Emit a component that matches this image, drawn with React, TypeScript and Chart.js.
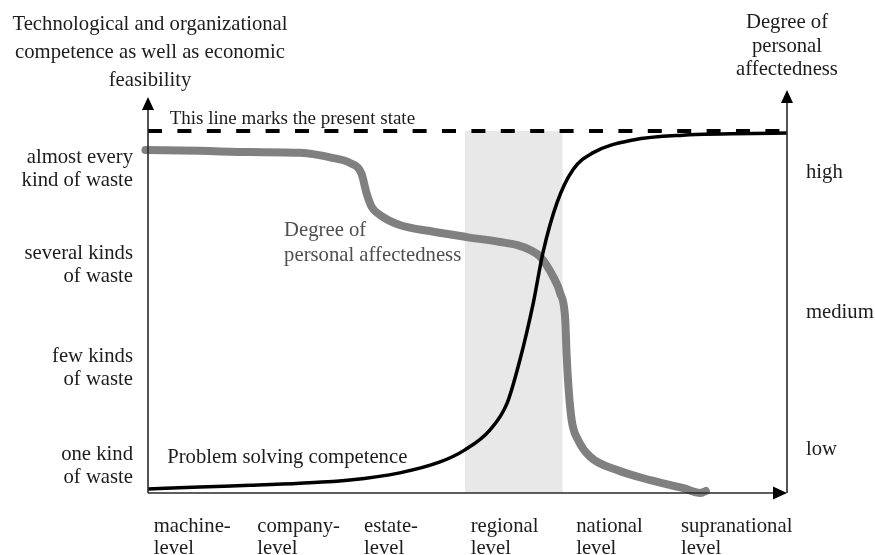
import React, { useEffect, useRef } from "react";
import { Chart, registerables } from "chart.js";

Chart.register(...registerables);

// ---------- data (chart units: x = 0..100 along the level axis, y = 0..100 up the axes) ----------
const levelLabels = [
  ["machine-", "level"],
  ["company-", "level"],
  ["estate-", "level"],
  ["regional", "level"],
  ["national", "level"],
  ["supranational", "level"],
];
const levelPositions = [0.9, 17.1, 33.8, 50.5, 67.0, 83.4];

const wasteLabels = [
  ["almost every", "kind of waste"],
  ["several kinds", "of waste"],
  ["few kinds", "of waste"],
  ["one kind", "of waste"],
];
const wastePositions = [80.5, 56.6, 30.9, 6.6];

const affectLabels = ["high", "medium", "low"];
const affectPositions = [79.4, 44.7, 10.7];

// Problem solving competence (black S-curve)
const competenceX = [0, 8.1, 16.0, 23.8, 31.6, 39.4, 45.7, 49.6, 53.5, 56.2, 58.2, 60.3, 61.8, 64.0, 66.5, 69.6, 75.9, 83.7, 100];
const competenceY = [1.0, 1.5, 1.9, 2.4, 3.2, 5.0, 7.7, 10.7, 15.6, 22.3, 33.0, 47.2, 59.6, 72.0, 80.2, 84.4, 87.6, 88.8, 89.3];

// Degree of personal affectedness (thick grey curve)
const affectednessX = [-0.4, 8.1, 16.0, 23.8, 29.0, 31.6, 33.4, 34.2, 35.0, 36.3, 39.4, 44.1, 49.9, 55.1, 57.8, 59.8, 61.4, 63.4, 64.5, 65.3, 65.5, 65.8, 66.3, 67.3, 69.2, 73.4, 78.6, 83.8, 86.4, 87.3];
const affectednessY = [85.1, 84.9, 84.6, 84.4, 83.1, 81.9, 79.3, 74.4, 71.0, 69.0, 66.5, 65.0, 63.5, 62.3, 61.5, 60.3, 58.6, 53.7, 49.6, 42.9, 34.7, 26.4, 18.1, 13.2, 9.0, 5.7, 3.2, 1.2, 0, 0.5];

// Present state (dashed line)
const presentStateX = [0, 100];
const presentStateY = [89.8, 89.8];

// Regional band (light grey area)
const regionalBandX = [49.6, 64.9];
const regionalBandY = [89.8, 89.8];

const FONT = '"Liberation Serif", "Times New Roman", serif';
const TEXT = "#1c1c1c";
const SIZE = 20.7;

const toPoints = (xs: number[], ys: number[]) => xs.map((x, i) => ({ x, y: ys[i] }));

const overlayPlugin = {
  id: "overlay",
  afterDatasetsDraw(chart: any) {
    const { ctx, chartArea: a, scales } = chart;
    const sx = scales.x;
    const sy = scales.y;
    ctx.save();

    // axes
    ctx.strokeStyle = "#2a2a2a";
    ctx.fillStyle = "#000";
    ctx.lineWidth = 1.6;
    const leftTip = a.top + 7;
    const rightTip = a.top;
    ctx.beginPath();
    ctx.moveTo(a.left, a.bottom);
    ctx.lineTo(a.left, leftTip + 8);
    ctx.moveTo(a.right, a.bottom);
    ctx.lineTo(a.right, rightTip + 8);
    ctx.moveTo(a.left, a.bottom);
    ctx.lineTo(a.right - 8, a.bottom);
    ctx.stroke();
    const tri = (p: number[][]) => {
      ctx.beginPath();
      ctx.moveTo(p[0][0], p[0][1]);
      ctx.lineTo(p[1][0], p[1][1]);
      ctx.lineTo(p[2][0], p[2][1]);
      ctx.closePath();
      ctx.fill();
    };
    tri([[a.left, leftTip], [a.left - 6, leftTip + 13], [a.left + 6, leftTip + 13]]);
    tri([[a.right, rightTip], [a.right - 6, rightTip + 13], [a.right + 6, rightTip + 13]]);
    tri([[a.right, a.bottom], [a.right - 14, a.bottom - 6.5], [a.right - 14, a.bottom + 6.5]]);

    // titles
    ctx.font = `${SIZE}px ${FONT}`;
    ctx.fillStyle = TEXT;
    ctx.textBaseline = "alphabetic";
    ctx.textAlign = "center";
    const leftTitle = ["Technological and organizational", "competence as well as economic", "feasibility"];
    leftTitle.forEach((t, i) => ctx.fillText(t, a.left + 2, 30 + i * 28));
    const rightTitle = ["Degree of", "personal", "affectedness"];
    rightTitle.forEach((t, i) => ctx.fillText(t, a.right, 28 + i * 23.5));

    // in-plot labels (anchored in chart units)
    ctx.textAlign = "left";
    ctx.font = `19px ${FONT}`;
    ctx.fillText("This line marks the present state", sx.getPixelForValue(3.4), sy.getPixelForValue(91.6));
    ctx.font = `${SIZE}px ${FONT}`;
    ctx.fillText("Problem solving competence", sx.getPixelForValue(3.0), sy.getPixelForValue(7.4));
    ctx.fillStyle = "#4f4f4f";
    ctx.fillText("Degree of", sx.getPixelForValue(21.3), sy.getPixelForValue(63.8));
    ctx.fillText("personal affectedness", sx.getPixelForValue(21.3), sy.getPixelForValue(57.6));

    ctx.restore();
  },
};

export default function App() {
  const ref = useRef<HTMLCanvasElement | null>(null);

  useEffect(() => {
    if (!ref.current) return;
    const tickFont = { family: FONT, size: SIZE, lineHeight: "23px" };
    const chart = new Chart(ref.current, {
      type: "line",
      data: {
        datasets: [
          {
            label: "Problem solving competence",
            data: toPoints(competenceX, competenceY),
            borderColor: "#000",
            borderWidth: 3.5,
            pointRadius: 0,
            cubicInterpolationMode: "monotone",
            fill: false,
            clip: false,
          } as any,
          {
            label: "Degree of personal affectedness",
            data: toPoints(affectednessX, affectednessY),
            borderColor: "#808080",
            borderWidth: 8,
            borderCapStyle: "round",
            borderJoinStyle: "round",
            pointRadius: 0,
            cubicInterpolationMode: "monotone",
            fill: false,
            clip: false,
          } as any,
          {
            label: "Present state",
            data: toPoints(presentStateX, presentStateY),
            borderColor: "#000",
            borderWidth: 4,
            borderDash: [14, 15.4],
            pointRadius: 0,
            fill: false,
            clip: false,
          } as any,
          {
            label: "Regional level band",
            data: toPoints(regionalBandX, regionalBandY),
            borderWidth: 0,
            borderColor: "rgba(0,0,0,0)",
            backgroundColor: "#e8e8e8",
            pointRadius: 0,
            fill: "origin",
          } as any,
        ],
      },
      options: {
        animation: false,
        responsive: false,
        maintainAspectRatio: false,
        layout: { padding: { top: 90, left: 0, right: 0, bottom: 0 } },
        plugins: {
          legend: { display: false },
          tooltip: { enabled: false },
        },
        scales: {
          x: {
            type: "linear",
            min: 0,
            max: 100,
            position: "bottom",
            grid: { display: false, drawTicks: false },
            border: { display: false },
            afterBuildTicks: (s: any) => {
              s.ticks = levelPositions.map((v) => ({ value: v }));
            },
            afterFit: (s: any) => {
              s.height = 62;
            },
            ticks: {
              autoSkip: false,
              maxRotation: 0,
              minRotation: 0,
              align: "start",
              padding: 23,
              color: TEXT,
              font: { family: FONT, size: SIZE, lineHeight: "21.5px" },
              callback: (_v: any, i: number) => levelLabels[i],
            },
          },
          y: {
            type: "linear",
            min: 0,
            max: 100,
            position: "left",
            grid: { display: false, drawTicks: false },
            border: { display: false },
            afterBuildTicks: (s: any) => {
              s.ticks = wastePositions.map((v) => ({ value: v }));
            },
            afterFit: (s: any) => {
              s.width = 148;
            },
            ticks: {
              autoSkip: false,
              padding: 15,
              color: TEXT,
              font: tickFont,
              callback: (_v: any, i: number) => wasteLabels[i],
            },
          },
          y2: {
            type: "linear",
            min: 0,
            max: 100,
            position: "right",
            grid: { display: false, drawTicks: false },
            border: { display: false },
            afterBuildTicks: (s: any) => {
              s.ticks = affectPositions.map((v) => ({ value: v }));
            },
            afterFit: (s: any) => {
              s.width = 88;
            },
            ticks: {
              autoSkip: false,
              padding: 19,
              color: TEXT,
              font: tickFont,
              callback: (_v: any, i: number) => affectLabels[i],
            },
          },
        },
      } as any,
      plugins: [overlayPlugin],
    });
    return () => chart.destroy();
  }, []);

  return (
    <div style={{ position: "absolute", left: 0, top: 0, width: 875, height: 555, background: "#fff" }}>
      <canvas ref={ref} width={875} height={555} />
    </div>
  );
}
